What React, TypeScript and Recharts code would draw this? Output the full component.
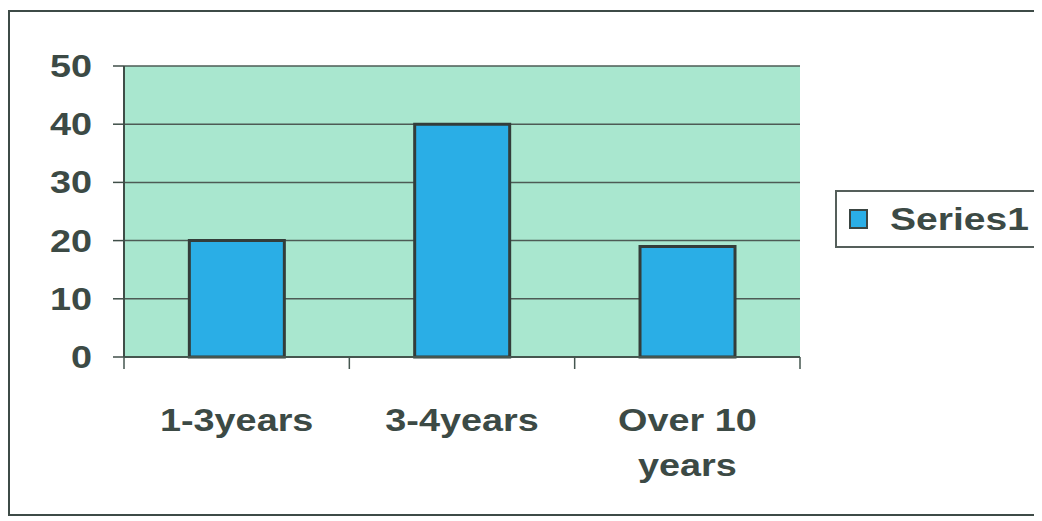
import React from "react";
import {
  BarChart,
  Bar,
  XAxis,
  YAxis,
  CartesianGrid,
  Legend,
} from "recharts";

const categories = ["1-3years", "3-4years", "Over 10 years"];
const series1 = [20, 40, 19];
const yTicks = [0, 10, 20, 30, 40, 50];
const seriesName = "Series1";

const data = categories.map((c, i) => ({ name: c, value: series1[i] }));

const TEXT = "#3c4a45";
const FONT = "'Liberation Sans', Arial, sans-serif";
const STRETCH = 1.22;

const CHART_W = 1032;
const CHART_H = 502;
const MARGIN = { top: 54, right: 242, left: 0, bottom: 27 };
const Y_W = 114;
const BAND = (CHART_W - MARGIN.right - MARGIN.left - Y_W) / categories.length;

const wrap = (s: string): string[] => {
  if (s.length <= 10) return [s];
  const i = s.lastIndexOf(" ");
  return i > 0 ? [s.slice(0, i), s.slice(i + 1)] : [s];
};

const XTick = (props: any) => {
  const { x, y, payload, index } = props;
  const lines = wrap(String(payload.value));
  const isLast = index === categories.length - 1;
  return (
    <g>
      <line
        x1={x - BAND / 2}
        x2={x - BAND / 2}
        y1={y - 8}
        y2={y + 4}
        stroke="#45564f"
        strokeWidth={1.5}
      />
      {isLast && (
        <line
          x1={x + BAND / 2}
          x2={x + BAND / 2}
          y1={y - 8}
          y2={y + 4}
          stroke="#45564f"
          strokeWidth={1.5}
        />
      )}
      <g transform={`translate(${x},${y}) scale(${STRETCH},1)`}>
        {lines.map((l, i) => (
          <text
            key={i}
            x={0}
            y={66 + i * 45}
            textAnchor="middle"
            fill={TEXT}
            fontFamily={FONT}
            fontWeight="bold"
            fontSize={31}
          >
            {l}
          </text>
        ))}
      </g>
    </g>
  );
};

const YTick = (props: any) => {
  const { x, y, payload } = props;
  return (
    <g transform={`translate(${x},${y}) scale(${STRETCH},1)`}>
      <text
        x={0}
        y={11}
        textAnchor="end"
        fill={TEXT}
        fontFamily={FONT}
        fontWeight="bold"
        fontSize={31}
      >
        {payload.value}
      </text>
    </g>
  );
};

const LegendBox = () => (
  <div
    style={{
      boxSizing: "border-box",
      width: 206,
      height: 58,
      border: "2px solid #555f5b",
      background: "#fff",
      display: "flex",
      alignItems: "center",
    }}
  >
    <div
      style={{
        width: 15,
        height: 16,
        marginLeft: 12,
        background: "#2aaee6",
        border: "2px solid #3a4542",
      }}
    />
    <span
      style={{
        display: "inline-block",
        marginLeft: 22,
        fontFamily: FONT,
        fontWeight: "bold",
        fontSize: 32,
        color: TEXT,
        transform: `scaleX(${STRETCH})`,
        transformOrigin: "left center",
        whiteSpace: "nowrap",
      }}
    >
      {seriesName}
    </span>
  </div>
);

export default function App() {
  return (
    <div
      style={{
        boxSizing: "border-box",
        width: 1034,
        height: 506,
        marginTop: 2,
        borderTop: "2px solid #3e4b47",
        borderLeft: "2px solid #3e4b47",
        borderBottom: "2px solid #3e4b47",
        background: "#fff",
      }}
    >
      <BarChart
        width={CHART_W}
        height={CHART_H}
        data={data}
        margin={MARGIN}
        barCategoryGap="29%"
      >
        <CartesianGrid
          vertical={false}
          horizontal={true}
          stroke="#4d5b55"
          strokeWidth={1.5}
          fill="#a9e7cf"
          fillOpacity={1}
        />
        <XAxis
          dataKey="name"
          height={130}
          axisLine={{ stroke: "#45564f", strokeWidth: 2 }}
          tickLine={false}
          tick={XTick}
          interval={0}
        />
        <YAxis
          yAxisId={0}
          width={Y_W}
          domain={[0, 50]}
          ticks={yTicks}
          tickSize={11}
          tickMargin={21}
          tick={YTick}
          axisLine={{ stroke: "#3f4e48", strokeWidth: 2 }}
          tickLine={{ stroke: "#3f4e48", strokeWidth: 1.5 }}
        />
        <YAxis
          yAxisId="right"
          orientation="right"
          width={0}
          domain={[0, 50]}
          tick={false}
          tickLine={false}
          axisLine={{ stroke: "#5cc8a4", strokeWidth: 2 }}
        />
        <Legend
          layout="horizontal"
          verticalAlign="middle"
          align="center"
          content={LegendBox}
          wrapperStyle={{ position: "absolute", left: 825, top: 178, width: 206 }}
        />
        <Bar
          dataKey="value"
          name={seriesName}
          yAxisId={0}
          fill="#2aaee6"
          stroke="#333d3a"
          strokeWidth={3}
          isAnimationActive={false}
        />
      </BarChart>
    </div>
  );
}
